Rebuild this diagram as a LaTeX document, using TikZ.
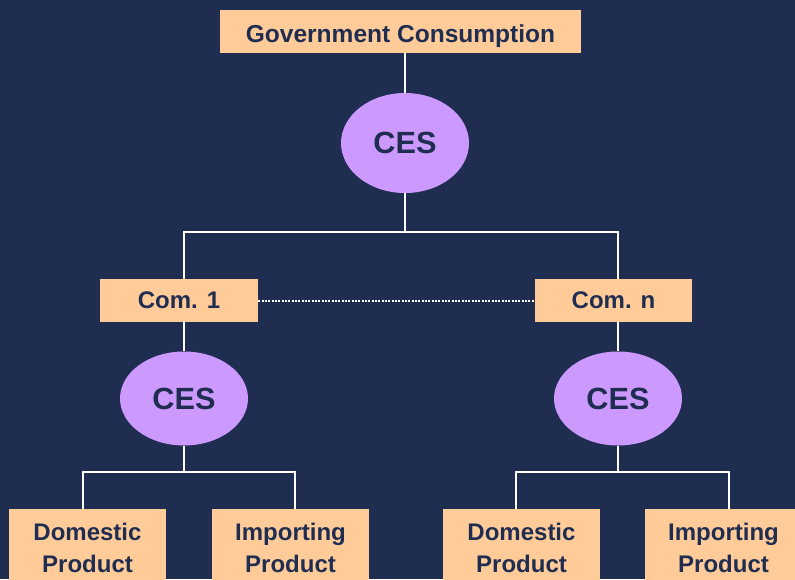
\documentclass[tikz,border=0pt]{standalone}
\usepackage{fontspec}
\setmainfont{Liberation Sans}
\usetikzlibrary{shapes.geometric}
\definecolor{navy}{RGB}{31,45,80}
\definecolor{peach}{RGB}{255,204,153}
\definecolor{lilac}{RGB}{204,153,255}

\begin{document}
\begin{tikzpicture}[x=0.75pt,y=-0.75pt,
  box/.style={fill=peach,text=navy,inner sep=0pt,align=center,
    font=\bfseries\fontsize{18}{23.5}\selectfont},
  ces/.style={ellipse,fill=lilac,text=navy,inner sep=0pt,minimum width=96pt,
    font=\bfseries\fontsize{23}{27}\selectfont},
  link/.style={draw=white,line width=1.5pt}]
  \useasboundingbox (0,0) rectangle (795,579);
  \clip (0,0) rectangle (795,579);
  \fill[navy] (0,0) rectangle (795,579);
  % top level
  \node[box,minimum width=270.75pt,minimum height=32.25pt,text height=17pt,text depth=0pt,
    font=\bfseries\fontsize{18.4}{23.5}\selectfont] (gov) at (400.5,31.5) {Government Consumption};
  \node[ces,minimum height=75pt] (ces0) at (405,143) {CES};
  \coordinate (j0) at (405,232);
  % commodities
  \node[box,minimum width=118.5pt,minimum height=32.25pt] (com1) at (179,300.5) {Com. 1};
  \node[box,minimum width=117.75pt,minimum height=32.25pt] (comn) at (613.5,300.5) {Com. n};
  \node[ces,minimum height=70.5pt] (ces1) at (184,398.5) {CES};
  \node[ces,minimum height=70.5pt] (ces2) at (618,398.5) {CES};
  \coordinate (j1) at (184,472);
  \coordinate (j2) at (618,472);
  % products
  \node[box,minimum width=117.75pt,minimum height=58.5pt] (dom1) at (87.5,548) {Domestic\\Product};
  \node[box,minimum width=117.75pt,minimum height=58.5pt] (imp1) at (290.5,548) {Importing\\Product};
  \node[box,minimum width=117.75pt,minimum height=58.5pt] (dom2) at (521.5,548) {Domestic\\Product};
  \node[box,minimum width=117.75pt,minimum height=58.5pt] (imp2) at (723.5,548) {Importing\\Product};
  % connectors
  \draw[link] (ces0.north) -- (ces0.north |- gov.south);
  \draw[link] (ces0.south) -- (j0);
  \draw[link] ([xshift=3.75pt]com1.north) |- (j0) -| ([xshift=3.4pt]comn.north);
  \draw[link,dash pattern=on 1.5pt off 1pt] (com1.east) -- (comn.west);
  \draw[link] (com1.south -| ces1.north) -- (ces1.north);
  \draw[link] (comn.south -| ces2.north) -- (ces2.north);
  \draw[link] (ces1.south) -- (j1);
  \draw[link] (ces2.south) -- (j2);
  \draw[link] ([xshift=-3.4pt]dom1.north) |- (j1) -| ([xshift=3.4pt]imp1.north);
  \draw[link] ([xshift=-4.1pt]dom2.north) |- (j2) -| ([xshift=4.1pt]imp2.north);
\end{tikzpicture}
\end{document}
